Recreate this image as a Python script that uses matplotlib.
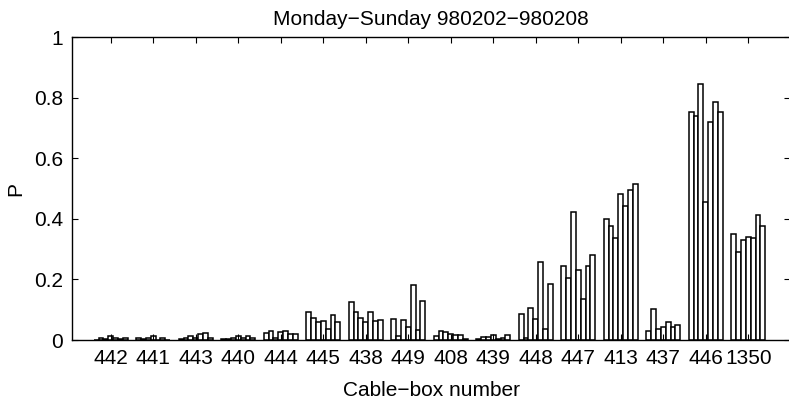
import numpy as np
import matplotlib.pyplot as plt

plt.rcParams['font.family'] = ['Liberation Sans', 'DejaVu Sans']

# Cable-box numbers (groups) and the seven days, Monday..Sunday
boxes = ['442', '441', '443', '440', '444', '445', '438', '449',
         '408', '439', '448', '447', '413', '437', '446', '1350']

# P per box, one row per box, Monday..Sunday
p_442 = [0.001, 0.005, 0.002, 0.012, 0.006, 0.002, 0.007]
p_441 = [0.005, 0.003, 0.005, 0.012, 0.001, 0.007, 0.001]
p_443 = [0.003, 0.006, 0.013, 0.008, 0.020, 0.023, 0.005]
p_440 = [0.003, 0.004, 0.006, 0.014, 0.008, 0.013, 0.005]
p_444 = [0.023, 0.031, 0.007, 0.027, 0.029, 0.020, 0.020]
p_445 = [0.091, 0.073, 0.060, 0.064, 0.035, 0.084, 0.060]
p_438 = [0.125, 0.092, 0.073, 0.060, 0.094, 0.063, 0.066]
p_449 = [0.070, 0.014, 0.065, 0.044, 0.180, 0.033, 0.128]
p_408 = [0.014, 0.031, 0.028, 0.021, 0.016, 0.016, 0.003]
p_439 = [0.004, 0.010, 0.010, 0.015, 0.002, 0.008, 0.017]
p_448 = [0.085, 0.008, 0.106, 0.068, 0.256, 0.036, 0.186]
p_447 = [0.245, 0.204, 0.421, 0.231, 0.134, 0.243, 0.281]
p_413 = [0.399, 0.377, 0.338, 0.482, 0.442, 0.496, 0.514]
p_437 = [0.030, 0.102, 0.037, 0.044, 0.059, 0.043, 0.048]
p_446 = [0.751, 0.739, 0.845, 0.456, 0.720, 0.784, 0.752]
p_1350 = [0.350, 0.289, 0.330, 0.341, 0.336, 0.412, 0.377]

data = np.array([p_442, p_441, p_443, p_440, p_444, p_445, p_438, p_449,
                 p_408, p_439, p_448, p_447, p_413, p_437, p_446, p_1350])

FS = 15

fig = plt.figure(figsize=(7.89, 4.04), dpi=100)
# right edge of the box sits just past the picture's edge, as in the original
ax = fig.add_axes([0.0916, 0.1584, 0.9096, 0.75])

n_groups, n_days = data.shape
x = np.arange(1, n_groups + 1)
group_w = min(0.8, n_days / (n_days + 1.5))
w = group_w / n_days

for d in range(n_days):
    offs = (d - (n_days - 1) / 2) * w
    ax.bar(x + offs, data[:, d], width=w, facecolor='white',
           edgecolor='black', linewidth=1.1)

ax.set_xlim(0.096, 16.98)
ax.set_ylim(0, 1)
ax.set_xticks(x)
ax.set_xticklabels(boxes)
ax.set_yticks([0, 0.2, 0.4, 0.6, 0.8, 1])
ax.set_yticklabels(['0', '0.2', '0.4', '0.6', '0.8', '1'])
ax.tick_params(direction='in', length=4.5, width=0.8, top=True, right=True,
               labelsize=FS)
ax.tick_params(axis='x', pad=6.5)
ax.tick_params(axis='y', pad=6.5)
for s in ax.spines.values():
    s.set_linewidth(1.0)

ax.set_title('Monday\u2212Sunday 980202\u2212980208', fontsize=FS, pad=9)
ax.set_xlabel('Cable\u2212box number', fontsize=FS, labelpad=9)
ax.set_ylabel('P', fontsize=FS)
ax.yaxis.set_label_coords(-0.066, 0.5)

fig.savefig('out.png', dpi=100)
